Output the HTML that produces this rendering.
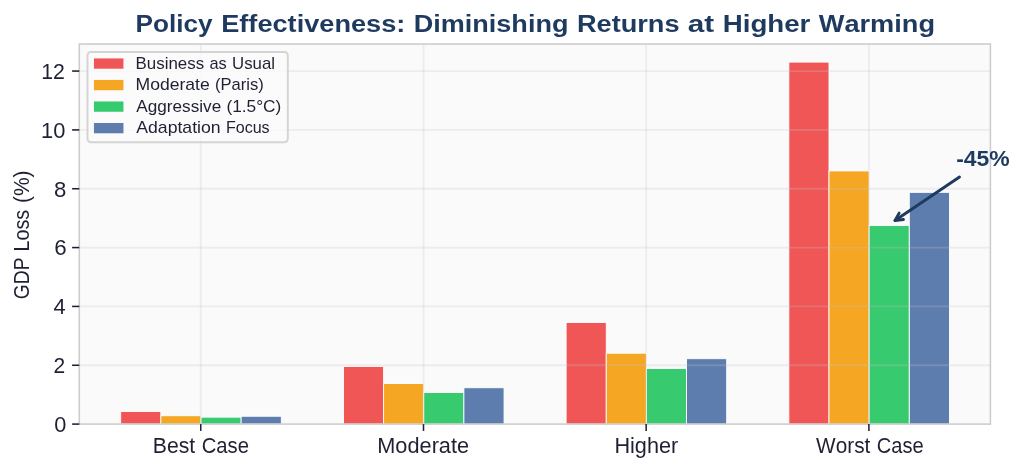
<!DOCTYPE html>
<html lang="en"><head><meta charset="utf-8"><title>Policy Effectiveness: Diminishing Returns at Higher Warming</title>
<style>
html,body{margin:0;padding:0;background:#ffffff;}
body{width:1024px;height:471px;overflow:hidden;font-family:"Liberation Sans",sans-serif;}
svg{display:block;will-change:transform;}
text{font-family:"Liberation Sans",sans-serif;font-kerning:none;}
.tk{font-size:21.4px;fill:#1f2033;}
.lg{font-size:16.2px;fill:#1f2033;}
.ttl{font-size:24.6px;font-weight:bold;fill:#1e3a5f;}
.ann{font-size:21.4px;font-weight:bold;fill:#1e3a5f;}
</style></head><body>
<svg width="1024" height="471" viewBox="0 0 1024 471">
<rect x="0" y="0" width="1024" height="471" fill="#ffffff"/>
<rect x="79.30" y="44.00" width="911.10" height="380.10" fill="#fafafa"/>
<g stroke="#ffffff" stroke-width="0.90">
<rect x="120.70" y="411.45" width="40.15" height="12.65" fill="#f05656"/>
<rect x="160.85" y="415.75" width="40.15" height="8.35" fill="#f5a623"/>
<rect x="201.00" y="417.15" width="40.15" height="6.95" fill="#38ca6e"/>
<rect x="241.15" y="416.25" width="40.15" height="7.85" fill="#5c7dae"/>
<rect x="343.45" y="366.45" width="40.15" height="57.65" fill="#f05656"/>
<rect x="383.60" y="383.50" width="40.15" height="40.60" fill="#f5a623"/>
<rect x="423.75" y="392.55" width="40.15" height="31.55" fill="#38ca6e"/>
<rect x="463.90" y="387.75" width="40.15" height="36.35" fill="#5c7dae"/>
<rect x="566.10" y="322.55" width="40.15" height="101.55" fill="#f05656"/>
<rect x="606.25" y="353.20" width="40.15" height="70.90" fill="#f5a623"/>
<rect x="646.40" y="368.45" width="40.15" height="55.65" fill="#38ca6e"/>
<rect x="686.55" y="358.70" width="40.15" height="65.40" fill="#5c7dae"/>
<rect x="788.85" y="62.10" width="40.15" height="362.00" fill="#f05656"/>
<rect x="829.00" y="170.95" width="40.15" height="253.15" fill="#f5a623"/>
<rect x="869.15" y="225.45" width="40.15" height="198.65" fill="#38ca6e"/>
<rect x="909.30" y="192.35" width="40.15" height="231.75" fill="#5c7dae"/>
</g>
<g stroke="#c4c4c4" stroke-opacity="0.26" stroke-width="1.8" fill="none">
<line x1="200.75" y1="44.00" x2="200.75" y2="424.10"/>
<line x1="423.50" y1="44.00" x2="423.50" y2="424.10"/>
<line x1="646.15" y1="44.00" x2="646.15" y2="424.10"/>
<line x1="868.90" y1="44.00" x2="868.90" y2="424.10"/>
<line x1="79.30" y1="365.26" x2="990.40" y2="365.26"/>
<line x1="79.30" y1="306.42" x2="990.40" y2="306.42"/>
<line x1="79.30" y1="247.58" x2="990.40" y2="247.58"/>
<line x1="79.30" y1="188.74" x2="990.40" y2="188.74"/>
<line x1="79.30" y1="129.90" x2="990.40" y2="129.90"/>
<line x1="79.30" y1="71.06" x2="990.40" y2="71.06"/>
</g>
<rect x="79.30" y="44.00" width="911.10" height="380.10" fill="none" stroke="#cccccc" stroke-width="1.55"/>
<g stroke="#1f2033" stroke-width="1.55" fill="none">
<line x1="200.75" y1="424.10" x2="200.75" y2="430.90"/>
<line x1="423.50" y1="424.10" x2="423.50" y2="430.90"/>
<line x1="646.15" y1="424.10" x2="646.15" y2="430.90"/>
<line x1="868.90" y1="424.10" x2="868.90" y2="430.90"/>
<line x1="72.10" y1="424.10" x2="79.30" y2="424.10"/>
<line x1="72.10" y1="365.26" x2="79.30" y2="365.26"/>
<line x1="72.10" y1="306.42" x2="79.30" y2="306.42"/>
<line x1="72.10" y1="247.58" x2="79.30" y2="247.58"/>
<line x1="72.10" y1="188.74" x2="79.30" y2="188.74"/>
<line x1="72.10" y1="129.90" x2="79.30" y2="129.90"/>
<line x1="72.10" y1="71.06" x2="79.30" y2="71.06"/>
</g>
<text class="tk" y="432.00"><tspan x="54.35" textLength="12.10" lengthAdjust="spacingAndGlyphs">0</tspan></text>
<text class="tk" y="373.00"><tspan x="53.50" textLength="11.66" lengthAdjust="spacingAndGlyphs">2</tspan></text>
<text class="tk" y="314.00"><tspan x="53.40" textLength="12.14" lengthAdjust="spacingAndGlyphs">4</tspan></text>
<text class="tk" y="255.00"><tspan x="54.27" textLength="12.41" lengthAdjust="spacingAndGlyphs">6</tspan></text>
<text class="tk" y="197.00"><tspan x="54.10" textLength="12.33" lengthAdjust="spacingAndGlyphs">8</tspan></text>
<text class="tk" y="138.00"><tspan x="41.13" textLength="24.32" lengthAdjust="spacingAndGlyphs">10</tspan></text>
<text class="tk" y="79.00"><tspan x="41.18" textLength="23.69" lengthAdjust="spacingAndGlyphs">12</tspan></text>
<text class="tk" y="452.80"><tspan x="152.76" textLength="42.43" lengthAdjust="spacingAndGlyphs">Best</tspan> <tspan x="201.72" textLength="47.23" lengthAdjust="spacingAndGlyphs">Case</tspan></text>
<text class="tk" y="452.80"><tspan x="377.28" textLength="91.82" lengthAdjust="spacingAndGlyphs">Moderate</tspan></text>
<text class="tk" y="452.80"><tspan x="614.42" textLength="63.84" lengthAdjust="spacingAndGlyphs">Higher</tspan></text>
<text class="tk" y="452.80"><tspan x="816.11" textLength="54.24" lengthAdjust="spacingAndGlyphs">Worst</tspan> <tspan x="876.83" textLength="46.86" lengthAdjust="spacingAndGlyphs">Case</tspan></text>
<text class="tk" y="0.00" transform="translate(28.8,298.2) rotate(-90)"><tspan x="-0.97" textLength="41.63" lengthAdjust="spacingAndGlyphs">GDP</tspan> <tspan x="46.70" textLength="41.77" lengthAdjust="spacingAndGlyphs">Loss</tspan> <tspan x="95.17" textLength="32.63" lengthAdjust="spacingAndGlyphs">(%)</tspan></text>
<text class="ttl" y="31.80"><tspan x="135.51" textLength="77.02" lengthAdjust="spacingAndGlyphs">Policy</tspan> <tspan x="221.20" textLength="184.18" lengthAdjust="spacingAndGlyphs">Effectiveness:</tspan> <tspan x="413.75" textLength="154.66" lengthAdjust="spacingAndGlyphs">Diminishing</tspan> <tspan x="576.94" textLength="102.62" lengthAdjust="spacingAndGlyphs">Returns</tspan> <tspan x="687.74" textLength="26.44" lengthAdjust="spacingAndGlyphs">at</tspan> <tspan x="722.70" textLength="87.70" lengthAdjust="spacingAndGlyphs">Higher</tspan> <tspan x="818.78" textLength="116.24" lengthAdjust="spacingAndGlyphs">Warming</tspan></text>
<rect x="87.5" y="52.0" width="200.3" height="90.2" rx="3.4" ry="3.4" fill="#fbfbfb" fill-opacity="0.8" stroke="#cccccc" stroke-opacity="0.85" stroke-width="1.9"/>
<rect x="93.95" y="58.40" width="29.5" height="10.3" fill="#f05656"/>
<text class="lg" y="68.76"><tspan x="135.56" textLength="68.60" lengthAdjust="spacingAndGlyphs">Business</tspan> <tspan x="209.53" textLength="17.30" lengthAdjust="spacingAndGlyphs">as</tspan> <tspan x="232.03" textLength="43.00" lengthAdjust="spacingAndGlyphs">Usual</tspan></text>
<rect x="93.95" y="79.93" width="29.5" height="10.3" fill="#f5a623"/>
<text class="lg" y="90.29"><tspan x="135.51" textLength="74.20" lengthAdjust="spacingAndGlyphs">Moderate</tspan> <tspan x="215.05" textLength="48.78" lengthAdjust="spacingAndGlyphs">(Paris)</tspan></text>
<rect x="93.95" y="101.46" width="29.5" height="10.3" fill="#38ca6e"/>
<text class="lg" y="111.82"><tspan x="136.27" textLength="84.92" lengthAdjust="spacingAndGlyphs">Aggressive</tspan> <tspan x="226.44" textLength="54.83" lengthAdjust="spacingAndGlyphs">(1.5°C)</tspan></text>
<rect x="93.95" y="122.99" width="29.5" height="10.3" fill="#5c7dae"/>
<text class="lg" y="133.35"><tspan x="136.27" textLength="84.34" lengthAdjust="spacingAndGlyphs">Adaptation</tspan> <tspan x="225.89" textLength="43.79" lengthAdjust="spacingAndGlyphs">Focus</tspan></text>
<g stroke="#1e3a5f" stroke-width="2.9" fill="none" stroke-linecap="round" stroke-linejoin="round">
<path d="M959.50 176.98 L895.00 220.55"/>
<path d="M899.17 213.14 L895.00 220.55 L903.43 219.45"/>
</g>
<text class="ann" y="165.60"><tspan x="956.16" textLength="53.54" lengthAdjust="spacingAndGlyphs">-45%</tspan></text>
</svg>
</body></html>
